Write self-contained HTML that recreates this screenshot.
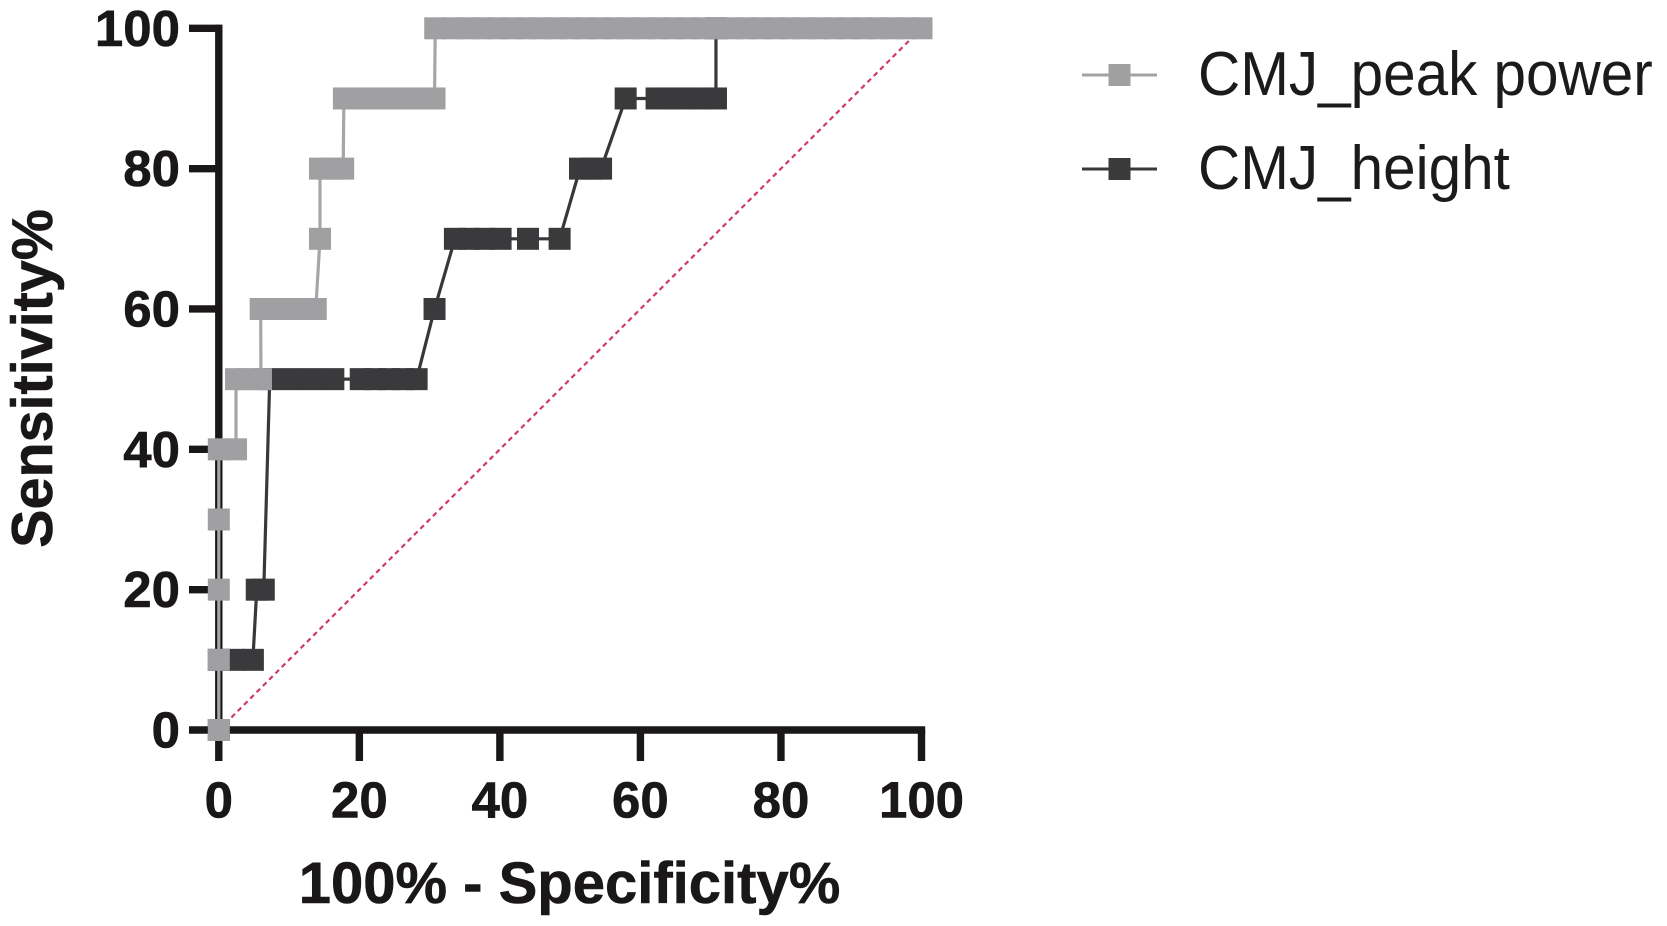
<!DOCTYPE html>
<html lang="en">
<head>
<meta charset="utf-8">
<title>ROC curves: CMJ peak power and CMJ height</title>
<style>
html,body{margin:0;padding:0;background:#fff;width:1667px;height:926px;overflow:hidden}
svg{display:block;font-family:"Liberation Sans",Arial,sans-serif}
</style>
</head>
<body>
<svg id="chart" xmlns="http://www.w3.org/2000/svg" width="1667" height="926" viewBox="0 0 1667 926">
  <rect x="0" y="0" width="1667" height="926" fill="#ffffff"/>
  <g id="axes"></g>
  <g id="reference"></g>
  <g id="series-height"></g>
  <g id="series-peak"></g>
  <text x="569.5" y="903" text-anchor="middle" font-size="58" font-weight="700" fill="#1a1718" stroke="#1a1718" stroke-width="0.6">100% - Specificity%</text>
  <text transform="translate(52,378.5) rotate(-90)" text-anchor="middle" font-size="57.5" font-weight="700" fill="#1a1718" stroke="#1a1718" stroke-width="0.6">Sensitivity%</text>
  <g>
    <g>
      <line x1="1082" x2="1157" y1="75" y2="75" stroke="#a3a3a6" stroke-width="3"/>
      <rect x="1108.5" y="64" width="22" height="22" fill="#a0a0a3"/>
      <text transform="translate(1198,95) scale(0.935,1)" font-size="62.5" fill="#1c1a1b">CMJ_peak power</text>
    </g>
    <g>
      <line x1="1082" x2="1157" y1="169" y2="169" stroke="#38383a" stroke-width="3"/>
      <rect x="1108.5" y="158" width="22" height="22" fill="#3a3a3c"/>
      <text transform="translate(1198,189) scale(0.935,1)" font-size="62.5" fill="#1c1a1b">CMJ_height</text>
    </g>
  </g>
</svg>
<script>
const xTicks = [0, 20, 40, 60, 80, 100];
const yTicks = [0, 20, 40, 60, 80, 100];
const xTickLabels = ["0", "20", "40", "60", "80", "100"];
const yTickLabels = ["0", "20", "40", "60", "80", "100"];
const referenceX = [0, 100];
const referenceY = [0, 100];

const heightX = [0, 0, 2.1, 4.85, 5.4, 6.4, 7.25, 10.3, 13.3, 16.3, 20.2, 22.2, 24.2, 26.2, 28.15, 30.7, 33.6, 35.7, 37.8, 40.1, 44, 48.5, 51.4, 53, 54.4, 57.9, 62.3, 64.5, 66.6, 68.7, 70.75, 70.75];
const heightY = [0, 10, 10, 10, 20, 20, 50, 50, 50, 50, 50, 50, 50, 50, 50, 60, 70, 70, 70, 70, 70, 70, 80, 80, 80, 90, 90, 90, 90, 90, 90, 100];

const peakX = [0, 0, 0, 0, 0, 2.45, 2.45, 4.2, 6, 5.96, 8.3, 10.4, 12.5, 13.8, 14.4, 14.4, 16, 17.7, 17.8, 20.4, 22.8, 25.2, 27.9, 30.7, 30.8, 33.3, 35.4, 37.5, 39.6, 41.7, 43.8, 45.8, 47.9, 50, 52.1, 54.2, 56.3, 58.3, 60.4, 62.5, 64.6, 66.7, 68.8, 70.8, 72.9, 75, 77.1, 79.2, 81.3, 83.3, 85.4, 87.5, 89.6, 91.7, 93.8, 95.8, 97.9, 100];
const peakY = [0, 10, 20, 30, 40, 40, 50, 50, 50, 60, 60, 60, 60, 60, 70, 80, 80, 80, 90, 90, 90, 90, 90, 90, 100, 100, 100, 100, 100, 100, 100, 100, 100, 100, 100, 100, 100, 100, 100, 100, 100, 100, 100, 100, 100, 100, 100, 100, 100, 100, 100, 100, 100, 100, 100, 100, 100, 100];

const NS = "http://www.w3.org/2000/svg";
const AXIS_COLOR = "#1a1718";
const xScale = function (v) { return 218.8 + v * 7.027; };
const yScale = function (v) { return 730 - v * 7.017; };

function make(tag, attrs, parent) {
  const el = document.createElementNS(NS, tag);
  Object.keys(attrs).forEach(function (k) { el.setAttribute(k, attrs[k]); });
  parent.appendChild(el);
  return el;
}

const axes = document.getElementById("axes");
const xBase = yScale(yTicks[0]);
const yBase = xScale(xTicks[0]);
const yAxisLine = make("line", { x1: yBase, x2: yBase, y1: yScale(100) - 3.7, y2: xBase + 3.7, stroke: AXIS_COLOR, "stroke-width": 7.4 }, axes);


const xAxisLine = make("line", { x1: xScale(0) - 3.7, x2: xScale(100) + 3.7, y1: xBase, y2: xBase, stroke: AXIS_COLOR, "stroke-width": 7.4 }, axes);



xTicks.forEach(function (t, i) {
  const px = xScale(t);
  const tick = make("line", { x1: px, x2: px, y1: xBase, y2: 761, stroke: AXIS_COLOR, "stroke-width": 7.4 }, axes);
  
  
  const label = make("text", { x: px, y: 817.5, "text-anchor": "middle", "font-size": 51, "font-weight": 700, fill: AXIS_COLOR, stroke: AXIS_COLOR, "stroke-width": 0.6 }, axes);
  label.textContent = xTickLabels[i];
  
  
});

yTicks.forEach(function (t, i) {
  const py = yScale(t);
  const tick = make("line", { x1: 189, x2: yBase, y1: py, y2: py, stroke: AXIS_COLOR, "stroke-width": 7.4 }, axes);
  
  
  const label = make("text", { x: 180, y: py + 17.5, "text-anchor": "end", "font-size": 51, "font-weight": 700, fill: AXIS_COLOR, stroke: AXIS_COLOR, "stroke-width": 0.6 }, axes);
  label.textContent = yTickLabels[i];
  
  
});

const refGroup = document.getElementById("reference");
const refLine = make("line", { x1: xScale(referenceX[0]), y1: yScale(referenceY[0]), x2: xScale(referenceX[1]), y2: yScale(referenceY[1]), stroke: "#cf3a63", "stroke-width": 2.2, "stroke-dasharray": "5 3.9" }, refGroup);



function drawSeries(groupId, xs, ys, lineColor, markerColor, name) {
  const g = document.getElementById(groupId);
  const pts = xs.map(function (x, i) { return xScale(x) + "," + yScale(ys[i]); }).join(" ");
  const line = make("polyline", { points: pts, fill: "none", stroke: lineColor, "stroke-width": 3.2 }, g);
  
  
  xs.forEach(function (x, i) {
    const marker = make("rect", { x: xScale(x) - 11, y: yScale(ys[i]) - 11, width: 22, height: 22, fill: markerColor }, g);
    
    
  });
}

drawSeries("series-height", heightX, heightY, "#38383a", "#3a3a3c", "cmj-height");
drawSeries("series-peak", peakX, peakY, "#a6a6a9", "#a0a0a3", "cmj-peak-power");
</script>
</body>
</html>
